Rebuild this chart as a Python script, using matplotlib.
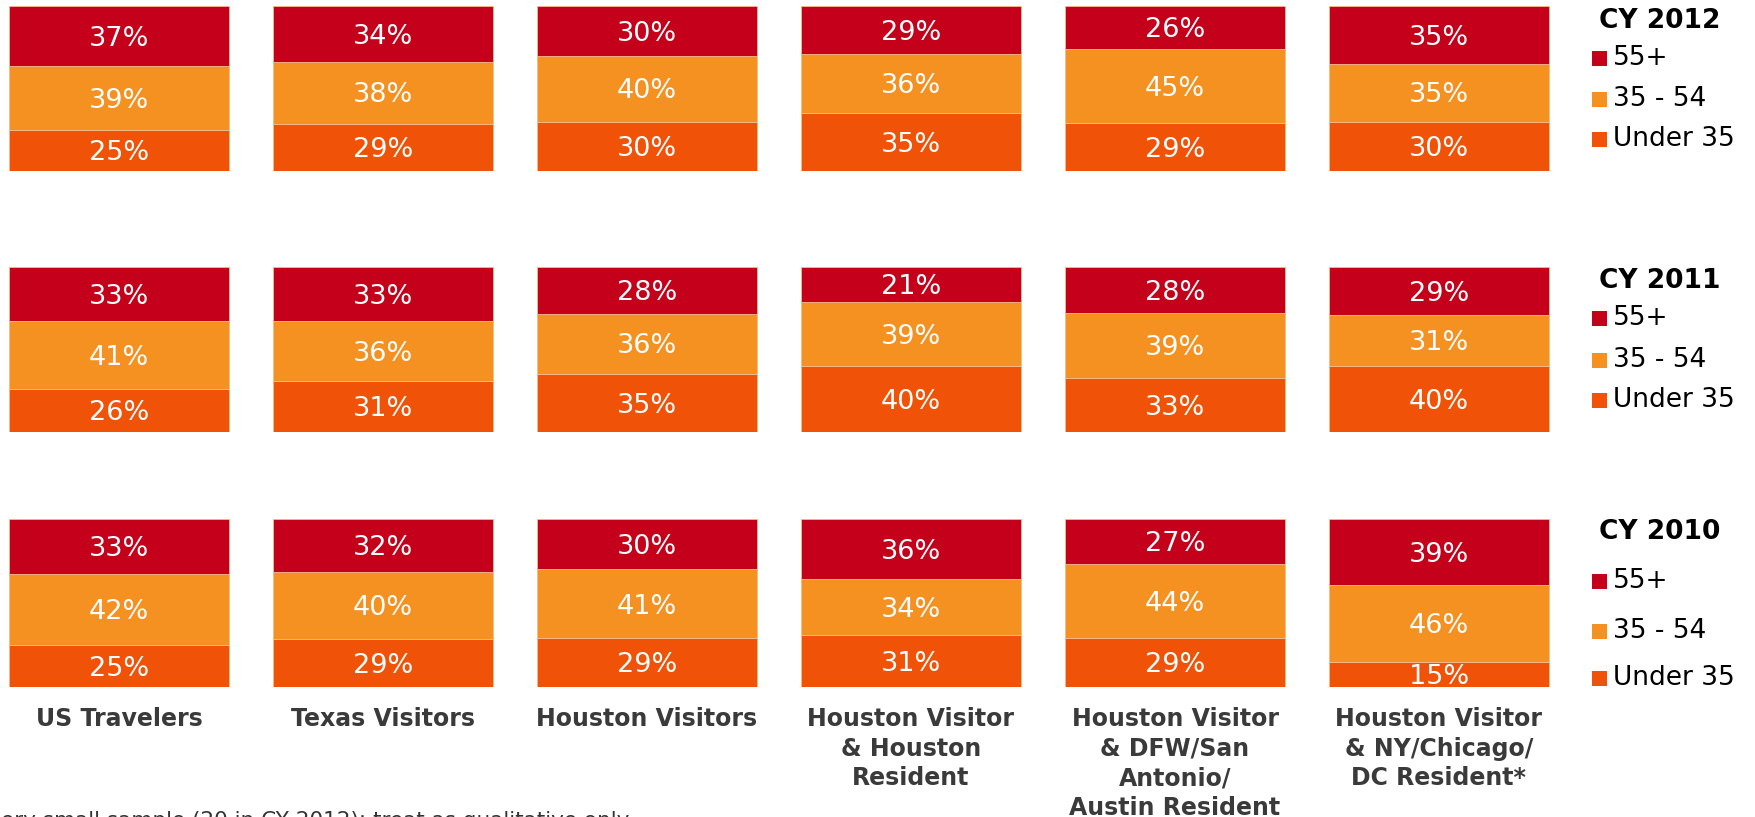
import numpy as np
import matplotlib
matplotlib.use("Agg")
import matplotlib.pyplot as plt
from matplotlib.patches import Rectangle

# data (percent)
groups = ["US Travelers", "Texas Visitors", "Houston Visitors",
          "Houston Visitor\n& Houston\nResident",
          "Houston Visitor\n& DFW/San\nAntonio/\nAustin Resident",
          "Houston Visitor\n& NY/Chicago/\nDC Resident*"]
years = ["CY 2012", "CY 2011", "CY 2010"]
age_labels = ["55+", "35 - 54", "Under 35"]

over55 = {"CY 2012": [37, 34, 30, 29, 26, 35],
          "CY 2011": [33, 33, 28, 21, 28, 29],
          "CY 2010": [33, 32, 30, 36, 27, 39]}
mid35_54 = {"CY 2012": [39, 38, 40, 36, 45, 35],
            "CY 2011": [41, 36, 36, 39, 39, 31],
            "CY 2010": [42, 40, 41, 34, 44, 46]}
under35 = {"CY 2012": [25, 29, 30, 35, 29, 30],
           "CY 2011": [26, 31, 35, 40, 33, 40],
           "CY 2010": [25, 29, 29, 31, 29, 15]}

colors = ["#C5001A", "#F59120", "#F05308"]  # 55+, 35-54, under 35
footnote = "ery small sample (20 in CY 2012); treat as qualitative only"

W, H = 1756, 817
fig = plt.figure(figsize=(W / 100, H / 100), dpi=100)

# row extents in pixels from top
rows = [(6, 171), (267, 432), (519, 687)]
legend_title_y = [21, 281, 532]
legend_item_y = [[58, 99, 139], [318, 360, 400], [581, 631, 678]]

unit = 264.0
x0 = -119 / unit
ax_w = 1560

def fx(px):
    return px / W

def fy(py):
    return 1 - py / H

for r, year in enumerate(years):
    top, bot = rows[r]
    ax = fig.add_axes([0, fy(bot), ax_w / W, (bot - top) / H])
    ax.set_xlim(x0, x0 + ax_w / unit)
    ax.set_ylim(0, 100)
    ax.axis("off")

    vals = np.array([over55[year], mid35_54[year], under35[year]], dtype=float)
    tot = vals.sum(axis=0)
    x = np.arange(len(groups))
    bottom = np.zeros(len(groups))
    # stack from bottom: under 35, 35-54, 55+
    for k in [2, 1, 0]:
        h = vals[k] / tot * 100
        ax.bar(x, h, bottom=bottom, width=220 / unit, color=colors[k],
               edgecolor="#f7b98a", linewidth=0.6)
        for i in range(len(groups)):
            ax.annotate("%d%%" % vals[k][i], (x[i], bottom[i] + h[i] / 2),
                        xytext=(0, -2), textcoords="offset points",
                        ha="center", va="center", color="white", fontsize=19.5)
        bottom += h

    # legend
    fig.text(fx(1660), fy(legend_title_y[r]), year, ha="center", va="center",
             fontsize=19, fontweight="bold", color="black")
    for k in range(3):
        yy = legend_item_y[r][k]
        fig.patches.append(Rectangle((fx(1592), fy(yy + 8)), 15 / W, 15 / H,
                                     transform=fig.transFigure,
                                     facecolor=colors[k], edgecolor="none"))
        fig.text(fx(1613), fy(yy), age_labels[k], ha="left", va="center",
                 fontsize=19, color="black")

# category labels below the bottom row
for i, g in enumerate(groups):
    fig.text(fx(119 + unit * i), fy(707), g, ha="center", va="top",
             fontsize=17, fontweight="bold", color="#3a3a3a",
             linespacing=1.29)

fig.text(fx(1), fy(827), footnote, ha="left", va="baseline",
         fontsize=15.5, color="#333333")

fig.savefig("out.png", dpi=100)
